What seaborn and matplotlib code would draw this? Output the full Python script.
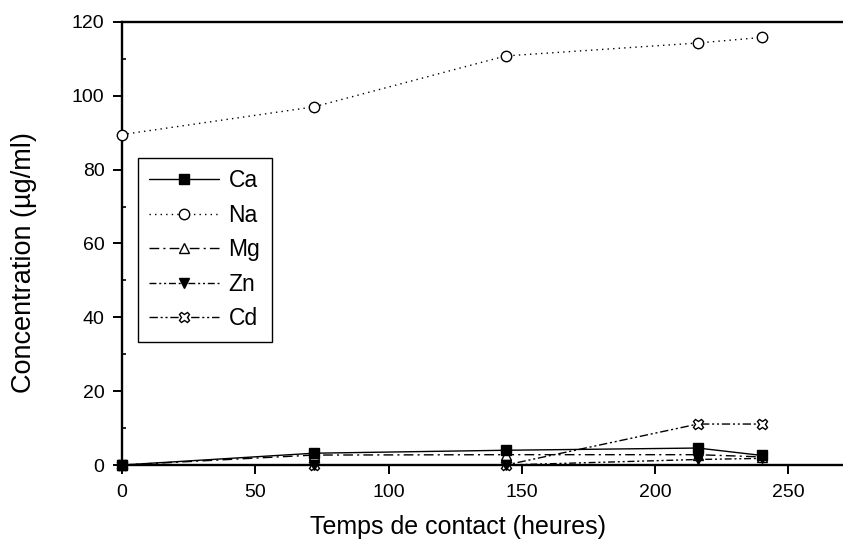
import matplotlib
matplotlib.use("Agg")
import matplotlib.pyplot as plt
import seaborn as sns
import numpy as np

sns.set_style("ticks")
plt.rcParams['font.family'] = ['Liberation Sans', 'DejaVu Sans']
plt.rcParams['text.color'] = 'black'
plt.rcParams['axes.labelcolor'] = 'black'

# Contact time (hours) and measured concentrations (µg/ml)
temps = [0, 72, 144, 216, 240]
ca = [0.0, 3.2, 4.0, 4.6, 2.6]
na = [89.5, 97.0, 110.8, 114.3, 115.8]
mg = [0.0, 2.7, 2.8, 2.8, 2.2]
zn = [0.0, 0.0, 0.0, 1.5, 1.8]
cd = [0.0, 0.0, 0.0, 11.1, 11.1]

series = [
    ("Ca", ca, dict(marker="s", markerfacecolor="black", linestyle="-", zorder=3.4)),
    ("Na", na, dict(marker="o", markerfacecolor="white", linestyle=(0, (1, 3)), zorder=3.0)),
    ("Mg", mg, dict(marker="^", markerfacecolor="white", linestyle=(0, (7, 3, 1.5, 3)), zorder=3.1)),
    ("Zn", zn, dict(marker="v", markerfacecolor="black",
                    linestyle=(0, (5, 2, 1.5, 2, 1.5, 2)), zorder=3.5)),
    ("Cd", cd, dict(marker="X", markerfacecolor="white",
                    linestyle=(0, (6, 2, 1.5, 2, 1.5, 2)), zorder=2.9)),
]

fig = plt.figure(figsize=(8.43, 5.43), dpi=100)
ax = fig.add_axes([0.1447, 0.1436, 0.857, 0.816])

for name, vals, style in series:
    sns.lineplot(x=temps, y=vals, ax=ax, color="black", linewidth=1.0,
                 markersize=7.5, markeredgecolor="black", markeredgewidth=1.0,
                 label=name, clip_on=False, **style)

ax.set_xlim(0, 271)
ax.set_ylim(0, 120)
ax.set_xticks([0, 50, 100, 150, 200, 250])
ax.set_yticks([0, 20, 40, 60, 80, 100, 120])
ax.set_yticks(np.arange(10, 120, 20), minor=True)

for side in ["left", "bottom", "top"]:
    ax.spines[side].set_linewidth(1.7)
    ax.spines[side].set_color("black")
ax.spines["right"].set_visible(False)

ax.tick_params(axis="both", which="major", direction="out", length=6.5, width=1.4,
               labelsize=14, colors="black", labelcolor="black")
ax.tick_params(axis="y", which="major", pad=6)
ax.tick_params(axis="x", which="major", pad=7)
ax.tick_params(axis="y", which="minor", direction="in", length=3, width=1.2,
               colors="black")

ax.set_xlabel("Temps de contact (heures)", fontsize=18, color="black")
ax.set_ylabel("Concentration (µg/ml)", fontsize=19.5, color="black")
# label placement in axes fraction
ax.xaxis.set_label_coords(0.465, -0.112)
ax.yaxis.set_label_coords(-0.117, 0.458)

leg = ax.legend(loc="upper left", bbox_to_anchor=(0.022, 0.693), borderaxespad=0,
                fontsize=16.5, handlelength=3.05, handletextpad=0.4,
                labelspacing=0.5, borderpad=0.5, frameon=True, fancybox=False,
                edgecolor="black", framealpha=1)
leg.get_frame().set_linewidth(1.0)
leg.set_zorder(5)
for txt in leg.get_texts():
    txt.set_color("black")

fig.savefig("out.png", dpi=100)
